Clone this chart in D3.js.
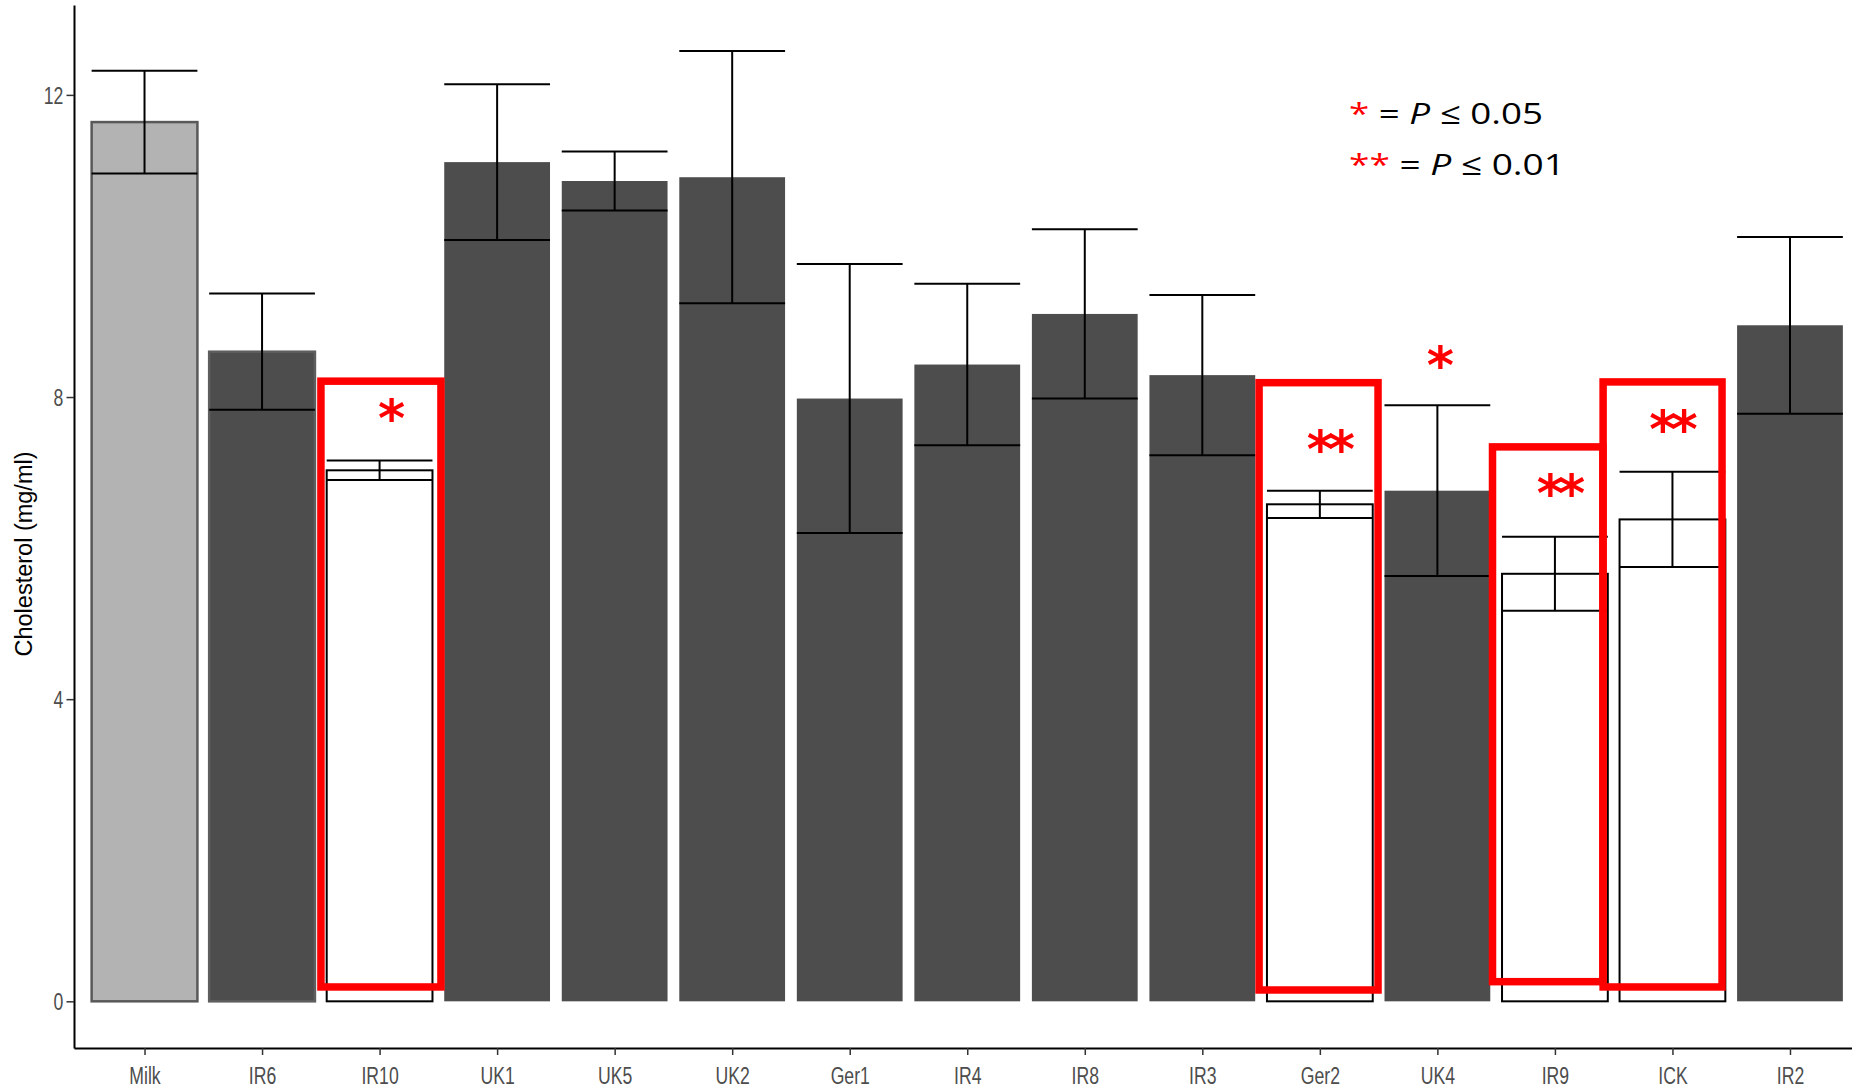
<!DOCTYPE html>
<html>
<head>
<meta charset="utf-8">
<script src="https://cdn.jsdelivr.net/npm/d3@7/dist/d3.min.js"></script>
<style>
  body { margin: 0; background: #fff; }
</style>
</head>
<body>
<div id="chart"></div>
<script>
// strains and measured cholesterol (mean, error)
var strains = ["Milk", "IR6", "IR10", "UK1", "UK5", "UK2", "Ger1", "IR4", "IR8", "IR3", "Ger2", "UK4", "IR9", "ICK", "IR2"];
var means   = [11.64, 8.60, 7.03, 11.11, 10.86, 10.91, 7.98, 8.43, 9.10, 8.29, 6.58, 6.76, 5.66, 6.38, 8.95];
var errors  = [0.68, 0.77, 0.13, 1.03, 0.39, 1.67, 1.78, 1.07, 1.12, 1.06, 0.18, 1.13, 0.49, 0.63, 1.17];
var groups  = ["milk", "edge", "sig", "dark", "dark", "dark", "dark", "dark", "dark", "dark", "sig", "dark", "sig", "sig", "dark"];
var stars   = ["", "", "*", "", "", "", "", "", "", "", "**", "*", "**", "**", ""];
var yTicks  = [0, 4, 8, 12];

// red highlight boxes (annotation overlay)
var boxStrains = ["IR10", "Ger2", "IR9", "ICK"];
var boxTop     = [8.21, 8.19, 7.34, 8.20];
var boxBottom  = [0.19, 0.15, 0.26, 0.19];

var W = 1852, H = 1091;
var padLeft = 74, axisY = 1048, axisTop = 5;

var svg = d3.select("#chart")
  .append("svg")
    .attr("width", W)
    .attr("height", H);

var x = d3.scalePoint()
  .domain(strains)
  .range([padLeft, 1860.5])
  .padding(0.6);
var bw = x.step() * 0.9;

var y = d3.scaleLinear()
  .domain([-0.618, 13.19])
  .range([axisY, axisTop]);

var data = strains.map(function(s, i) {
  return {name: s, mean: means[i], err: errors[i], group: groups[i], star: stars[i]};
});

var fills = {milk: "#b3b3b3", edge: "#4d4d4d", dark: "#4d4d4d", sig: "#ffffff"};
var strokes = {milk: "#595959", edge: "#5e5e5e", dark: "none", sig: "#000"};
var strokeW = {milk: 2.5, edge: 2.5, dark: 0, sig: 2};

// bars
svg.selectAll("rect.bar")
  .data(data)
  .enter()
  .append("rect")
    .attr("class", "bar")
    .attr("x", function(d) { return x(d.name) - bw / 2; })
    .attr("width", bw)
    .attr("y", function(d) { return y(d.mean); })
    .attr("height", function(d) { return y(0) - y(d.mean); })
    .attr("fill", function(d) { return fills[d.group]; })
    .attr("stroke", function(d) { return strokes[d.group]; })
    .attr("stroke-width", function(d) { return strokeW[d.group]; });

// error bars
var eb = svg.selectAll("g.err")
  .data(data)
  .enter()
  .append("g")
    .attr("class", "err")
    .attr("stroke", "#000")
    .attr("stroke-width", 2);
eb.append("line")
  .attr("x1", function(d) { return x(d.name); })
  .attr("x2", function(d) { return x(d.name); })
  .attr("y1", function(d) { return y(d.mean - d.err); })
  .attr("y2", function(d) { return y(d.mean + d.err); });
eb.append("line")
  .attr("x1", function(d) { return x(d.name) - bw / 2; })
  .attr("x2", function(d) { return x(d.name) + bw / 2; })
  .attr("y1", function(d) { return y(d.mean + d.err); })
  .attr("y2", function(d) { return y(d.mean + d.err); });
eb.append("line")
  .attr("x1", function(d) { return x(d.name) - bw / 2; })
  .attr("x2", function(d) { return x(d.name) + bw / 2; })
  .attr("y1", function(d) { return y(d.mean - d.err); })
  .attr("y2", function(d) { return y(d.mean - d.err); });

// red boxes
var boxL = [-0.499, -0.517, -0.531, -0.59];
var boxR = [0.522, 0.495, 0.408, 0.422];
svg.selectAll("rect.box")
  .data(boxStrains)
  .enter()
  .append("rect")
    .attr("class", "box")
    .attr("x", function(d, i) { return x(d) + boxL[i] * x.step(); })
    .attr("width", function(d, i) { return (boxR[i] - boxL[i]) * x.step(); })
    .attr("y", function(d, i) { return y(boxTop[i]); })
    .attr("height", function(d, i) { return y(boxBottom[i]) - y(boxTop[i]); })
    .attr("fill", "none")
    .attr("stroke", "#ff0000")
    .attr("stroke-width", 7.5);

// significance stars
var starDx = {IR10: 9, Ger2: 8, UK4: 0, IR9: 3, ICK: -2};
var starV  = {IR10: 7.85, Ger2: 7.45, UK4: 8.55, IR9: 6.86, ICK: 7.71};
svg.selectAll("text.star")
  .data(data.filter(function(d) { return d.star; }))
  .enter()
  .append("text")
    .attr("class", "star")
    .attr("x", function(d) { return x(d.name) + starDx[d.name]; })
    .attr("y", function(d) { return y(starV[d.name]) + 28; })
    .attr("text-anchor", "middle")
    .attr("font-family", "DejaVu Sans")
    .attr("font-weight", "bold")
    .attr("font-size", 52)
    .attr("letter-spacing", -6)
    .attr("fill", "#ff0000")
    .text(function(d) { return d.star; });

// axes
var xAxis = svg.append("g")
  .attr("transform", "translate(0," + axisY + ")")
  .call(d3.axisBottom(x).tickSize(7).tickSizeOuter(0));
xAxis.select(".domain").attr("stroke", "#000").attr("stroke-width", 2);
xAxis.selectAll(".tick line").attr("stroke", "#333").attr("stroke-width", 1.5);
xAxis.selectAll(".tick text")
  .attr("y", 36.5)
  .attr("dy", 0)
  .attr("transform", "scale(0.75,1)")
  .attr("font-family", "Liberation Sans, Arial, sans-serif")
  .attr("font-size", 23.5)
  .attr("fill", "#4d4d4d");

var yAxis = svg.append("g")
  .attr("transform", "translate(" + padLeft + ",0)")
  .call(d3.axisLeft(y).tickValues(yTicks).tickSize(7.5).tickSizeOuter(0));
yAxis.select(".domain").attr("stroke", "#000").attr("stroke-width", 2);
yAxis.selectAll(".tick line").attr("stroke", "#333").attr("stroke-width", 1.5);
yAxis.selectAll(".tick text")
  .attr("x", -14.3)
  .attr("dy", "0.35em")
  .attr("transform", "scale(0.75,1)")
  .attr("font-family", "Liberation Sans, Arial, sans-serif")
  .attr("font-size", 23.5)
  .attr("fill", "#4d4d4d");

svg.append("text")
  .attr("transform", "translate(32,554)rotate(-90)")
  .attr("text-anchor", "middle")
  .attr("font-family", "Liberation Sans, Arial, sans-serif")
  .attr("font-size", 23.5)
  .attr("fill", "#000")
  .text("Cholesterol (mg/ml)");

// legend
var legend = [
  {stars: "*", rest: "0.05", y: 124, len: 194},
  {stars: "**", rest: "0.01", y: 175, len: 216}
];
legend.forEach(function(l) {
  var t = svg.append("text")
    .attr("x", 1349)
    .attr("y", l.y)
    .attr("font-family", "Open Sans, sans-serif")
    .attr("font-size", 30)
    .attr("fill", "#000")
    .attr("textLength", l.len)
    .attr("lengthAdjust", "spacingAndGlyphs");
  t.append("tspan").attr("fill", "#ff0000").text(l.stars);
  t.append("tspan").text(" = ");
  t.append("tspan").attr("font-style", "italic").text("P");
  t.append("tspan").text(" \u2264 " + l.rest);
});
</script>
</body>
</html>
